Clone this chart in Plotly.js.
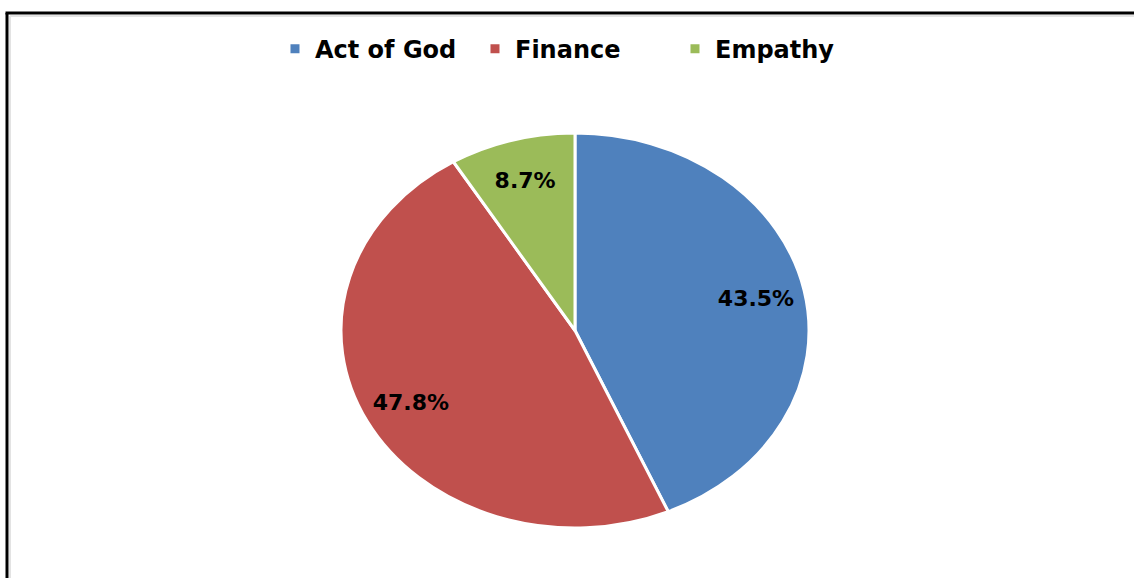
<!DOCTYPE html>
<html>
<head>
<meta charset="utf-8">
<script src="https://cdn.plot.ly/plotly-3.0.1.min.js"></script>
<style>html,body{margin:0;padding:0;background:#fff;}#chart{width:1134px;height:578px;}</style>
</head>
<body>
<div id="chart"></div>
<script>
var categories = ["Act of God", "Finance", "Empathy"];
var counts = [10, 11, 2];
var colors = ["#4F81BD", "#C0504D", "#9BBB59"];

// style: the reference pie is drawn as an ellipse, wider than tall
var STRETCH_X = 234 / 197.5;
var LABEL_RADIUS = 0.79;

var trace = {
  type: "pie",
  labels: categories,
  values: counts,
  sort: false,
  direction: "clockwise",
  rotation: 0,
  marker: {colors: colors, line: {color: "#ffffff", width: 3}},
  texttemplate: "%{percent:.1%}",
  textposition: "inside",
  insidetextorientation: "horizontal",
  textfont: {family: "DejaVu Sans", size: 22, color: "#000000", weight: "bold"},
  domain: {x: [0.0141, 1], y: [0.0865, 0.7699]},
  hoverinfo: "label+percent"
};

var layout = {
  width: 1134,
  height: 578,
  margin: {l: 0, r: 0, t: 0, b: 0},
  paper_bgcolor: "#ffffff",
  showlegend: true,
  legend: {
    orientation: "h",
    x: 0.2425, xanchor: "left",
    y: 0.915, yanchor: "middle",
    font: {family: "DejaVu Sans", size: 24, color: "#000000", weight: "bold"},
    entrywidth: 155,
    entrywidthmode: "pixels",
    traceorder: "normal"
  },
  shapes: [
    {type: "line", xref: "paper", yref: "paper", x0: 10/1134, x1: 10/1134, y0: 0, y1: 1 - 16/578, line: {color: "#e3e3e3", width: 2}},
    {type: "line", xref: "paper", yref: "paper", x0: 10/1134, x1: 1, y0: 1 - 16/578, y1: 1 - 16/578, line: {color: "#e3e3e3", width: 2}},
    {type: "line", xref: "paper", yref: "paper", x0: 7/1134, x1: 7/1134, y0: 0, y1: 1 - 13/578, line: {color: "#000000", width: 3}},
    {type: "line", xref: "paper", yref: "paper", x0: 5.5/1134, x1: 1, y0: 1 - 13/578, y1: 1 - 13/578, line: {color: "#000000", width: 3}}
  ]
};

Plotly.newPlot("chart", [trace], layout, {displayModeBar: false, staticPlot: true}).then(function (gd) {
  try {
    var paths = gd.querySelectorAll(".pielayer .slice path.surface");
    if (!paths.length) return;
    var minX = Infinity, maxX = -Infinity, minY = Infinity, maxY = -Infinity;
    paths.forEach(function (p) {
      var b = p.getBBox();
      minX = Math.min(minX, b.x); maxX = Math.max(maxX, b.x + b.width);
      minY = Math.min(minY, b.y); maxY = Math.max(maxY, b.y + b.height);
    });
    var cx = (minX + maxX) / 2, cy = (minY + maxY) / 2, R = (maxY - minY) / 2;
    var b0 = paths[0].getBBox(), r0 = paths[0].getBoundingClientRect();
    var ox = r0.left - b0.x, oy = r0.top - b0.y;

    var texts = gd.querySelectorAll(".pielayer .slice text.slicetext");
    var shifts = [];
    texts.forEach(function (t) {
      var r = t.getBoundingClientRect();
      var tx = (r.left + r.right) / 2 - ox, ty = (r.top + r.bottom) / 2 - oy;
      var dx = tx - cx, dy = ty - cy, d = Math.sqrt(dx * dx + dy * dy) || 1;
      var k = LABEL_RADIUS * R / d;
      var nx = cx + STRETCH_X * dx * k, ny = cy + dy * k;
      shifts.push([t, nx - tx, ny - ty]);
    });

    paths.forEach(function (p) {
      p.setAttribute("transform", "translate(" + cx + "," + cy + ") scale(" + STRETCH_X + ",1) translate(" + (-cx) + "," + (-cy) + ")");
      p.style.vectorEffect = "non-scaling-stroke";
    });
    shifts.forEach(function (s) {
      var old = s[0].getAttribute("transform") || "";
      s[0].setAttribute("transform", "translate(" + s[1] + "," + s[2] + ") " + old);
    });
  } catch (e) { console.error(e); }
});
</script>
</body>
</html>
